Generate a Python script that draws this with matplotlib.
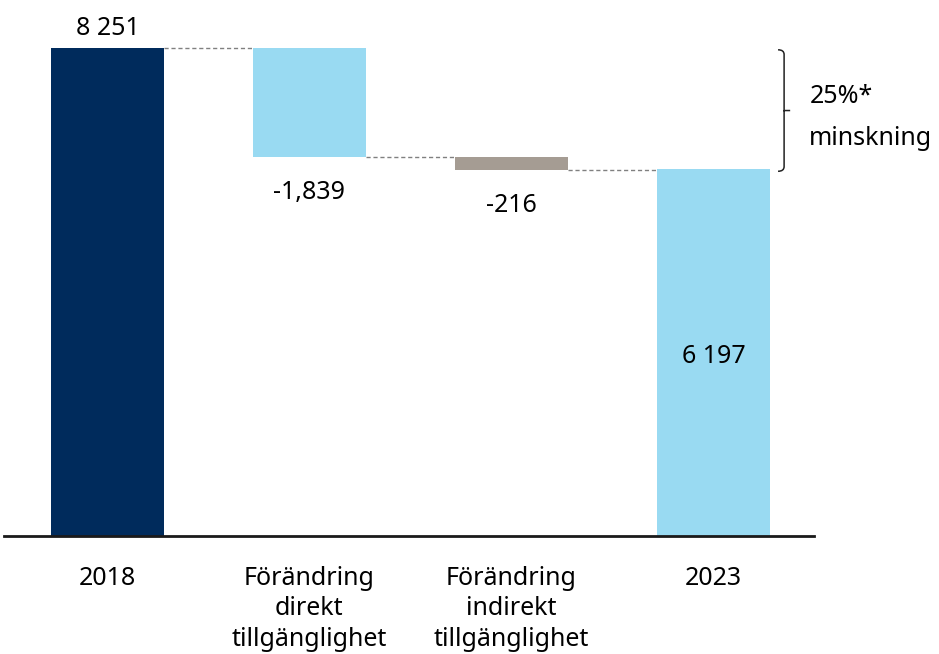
import matplotlib.pyplot as plt
from matplotlib.path import Path
from matplotlib.patches import PathPatch

plt.rcParams['font.family'] = ['Noto Sans', 'DejaVu Sans']

categories = ['2018', 'Förändring\ndirekt\ntillgänglighet', 'Förändring\nindirekt\ntillgänglighet', '2023']
values = [8251, -1839, -216, 6197]
value_labels = ['8 251', '-1,839', '-216', '6 197']
kinds = ['total', 'delta', 'delta', 'total']
colors = ['#002B5C', '#99DAF2', '#A59C93', '#99DAF2']


def main():
    fig = plt.figure(figsize=(9.39, 6.54), dpi=100)
    ax = fig.add_axes([4 / 939, 118 / 654, 810 / 939, 536 / 654])

    # waterfall bottoms / heights
    bottoms = []
    heights = []
    level = 0
    for v, k in zip(values, kinds):
        if k == 'total':
            bottoms.append(0)
            heights.append(v)
            level = v
        else:
            bottoms.append(level + v)
            heights.append(-v)
            level = level + v

    x = list(range(len(values)))
    w = 0.56
    ax.bar(x, heights, bottom=bottoms, width=w, color=colors)

    # dashed connectors
    tops = [b + h for b, h in zip(bottoms, heights)]
    running = [values[0], values[0] + values[1], values[0] + values[1] + values[2]]
    for i in range(3):
        ax.plot([i + w / 2, i + 1 - w / 2], [running[i], running[i]],
                ls=(0, (3, 2)), color='#808080', lw=1)

    fs = 18
    ax.text(0, tops[0] + 330, value_labels[0], ha='center', va='center', fontsize=fs)
    ax.text(1, bottoms[1] - 600, value_labels[1], ha='center', va='center', fontsize=fs)
    ax.text(2, bottoms[2] - 600, value_labels[2], ha='center', va='center', fontsize=fs)
    ax.text(3, heights[3] / 2 - 60, value_labels[3], ha='center', va='center', fontsize=fs)

    for i, c in enumerate(categories):
        ax.text(i, -500, c, ha='center', va='top', fontsize=fs, linespacing=1.3)

    # bracket for the decrease
    y_top = values[0] - 30
    y_bot = values[3] - 30
    y_mid = (y_top + y_bot) / 2
    xb = 3.32
    dx = 0.03
    verts = [(xb, y_top), (xb + dx, y_top), (xb + dx, y_top - 80), (xb + dx, y_mid + 200),
             (xb + dx, y_mid + 40), (xb + dx, y_mid), (xb + 2 * dx, y_mid),
             (xb + dx, y_mid), (xb + dx, y_mid - 40), (xb + dx, y_mid - 200),
             (xb + dx, y_bot + 80), (xb + dx, y_bot), (xb, y_bot)]
    codes = [Path.MOVETO, Path.CURVE3, Path.CURVE3, Path.LINETO,
             Path.CURVE3, Path.CURVE3, Path.LINETO,
             Path.MOVETO, Path.CURVE3, Path.CURVE3,
             Path.LINETO, Path.CURVE3, Path.CURVE3]
    ax.add_patch(PathPatch(Path(verts, codes), fill=False, lw=1.1, color='#222222',
                           clip_on=False))
    ax.text(xb + 0.155, y_mid + 240, '25%*', ha='left', va='center', fontsize=fs, clip_on=False)
    ax.text(xb + 0.155, y_mid - 470, 'minskning', ha='left', va='center', fontsize=fs, clip_on=False)

    ax.set_xlim(-0.512, 3.498)
    ax.set_ylim(0, 9063)
    ax.set_xticks([])
    ax.set_yticks([])
    for s in ['top', 'left', 'right']:
        ax.spines[s].set_visible(False)
    ax.spines['bottom'].set_linewidth(2)
    ax.spines['bottom'].set_color('#1a1a1a')

    fig.savefig('out.png', dpi=100)


if __name__ == "__main__":
    main()
